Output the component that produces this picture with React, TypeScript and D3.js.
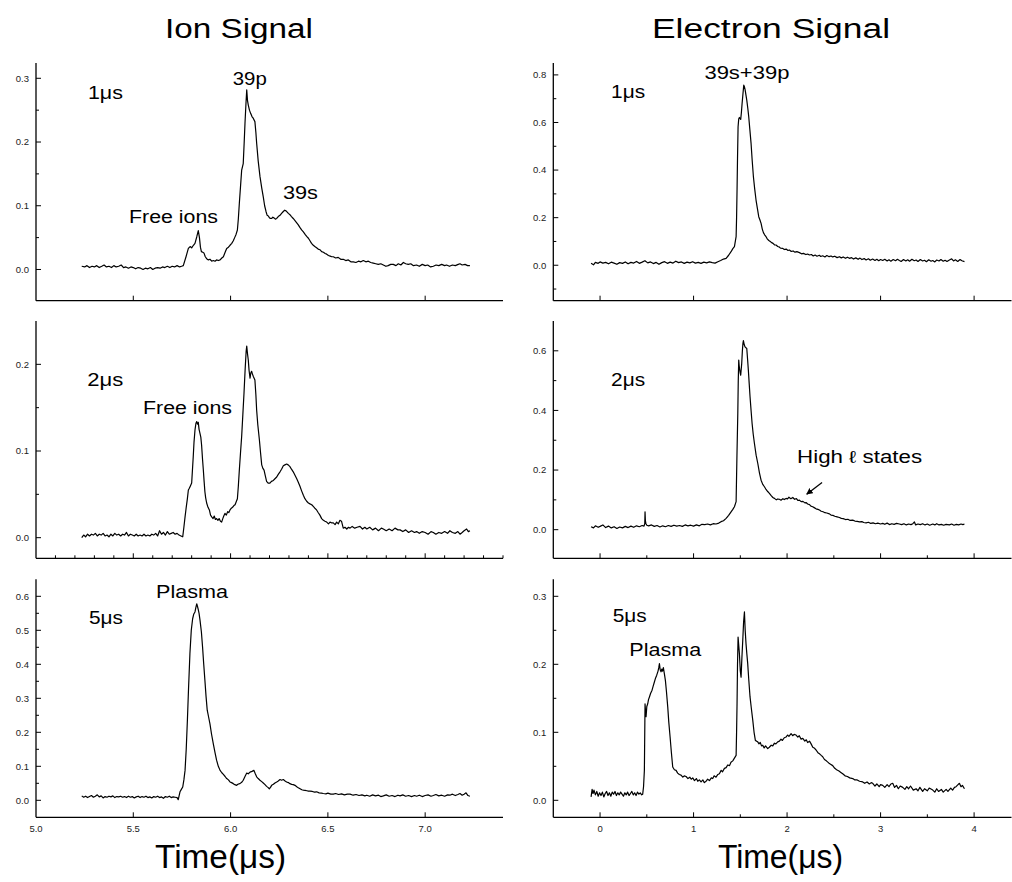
import React from 'react';
import * as d3 from 'd3';

const FONT = '"Liberation Sans", Arial, Helvetica, sans-serif';

// time (μs), signal — ion signal, delay 1 μs / 2 μs / 5 μs
const ion1: [number, number][] = [
  [5.235,.005],[5.25,.004],[5.262,.006],[5.275,.003],[5.288,.005],[5.30,.004],[5.312,.006],[5.325,.003],[5.338,.005],[5.35,.007],
  [5.362,.004],[5.375,.005],[5.388,.003],[5.40,.006],[5.412,.004],[5.425,.005],[5.438,.007],[5.45,.003],[5.462,.004],[5.475,.002],
  [5.488,.004],[5.50,.003],[5.512,.001],[5.525,.003],[5.538,.002],[5.55,.000],[5.562,.002],[5.575,.001],[5.588,.003],[5.60,.000],
  [5.612,.002],[5.625,.003],[5.638,.002],[5.65,.004],[5.662,.003],[5.675,.005],[5.688,.003],[5.70,.005],[5.712,.004],[5.725,.006],
  [5.738,.004],[5.748,.005],[5.757,.006],[5.771,.02],[5.783,.033],[5.792,.036],[5.80,.034],[5.809,.038],[5.817,.041],[5.826,.051],
  [5.834,.061],[5.84,.05],[5.845,.035],[5.85,.028],[5.857,.027],[5.863,.026],[5.87,.02],[5.877,.017],[5.886,.015],[5.894,.016],
  [5.903,.013],[5.911,.014],[5.92,.013],[5.928,.015],[5.937,.014],[5.946,.015],[5.955,.018],[5.963,.02],[5.972,.027],[5.98,.033],
  [5.989,.035],[5.997,.038],[6.006,.041],[6.014,.045],[6.021,.05],[6.028,.055],[6.035,.062],[6.04,.08],[6.045,.104],[6.051,.13],
  [6.057,.156],[6.065,.166],[6.07,.2],[6.074,.229],[6.079,.26],[6.083,.282],[6.087,.265],[6.091,.258],[6.097,.25],[6.103,.245],
  [6.11,.24],[6.117,.237],[6.125,.232],[6.13,.215],[6.134,.198],[6.142,.17],[6.151,.146],[6.16,.128],[6.168,.114],[6.175,.1],
  [6.182,.091],[6.188,.085],[6.194,.084],[6.2,.081],[6.206,.08],[6.211,.08],[6.217,.082],[6.223,.081],[6.23,.079],[6.237,.08],
  [6.245,.083],[6.254,.085],[6.262,.088],[6.271,.091],[6.278,.093],[6.285,.092],[6.291,.09],[6.297,.088],[6.305,.086],[6.313,.083],
  [6.322,.08],[6.33,.077],[6.338,.074],[6.348,.07],[6.356,.066],[6.365,.062],[6.374,.059],[6.383,.055],[6.391,.052],[6.40,.049],
  [6.408,.045],[6.416,.041],[6.425,.038],[6.433,.036],[6.442,.034],[6.45,.032],[6.459,.031],[6.468,.028],[6.477,.027],[6.486,.025],
  [6.494,.024],[6.503,.022],[6.512,.021],[6.52,.02],[6.528,.02],[6.54,.018],[6.553,.019],[6.566,.016],[6.579,.016],[6.592,.014],
  [6.605,.015],[6.618,.012],[6.631,.012],[6.644,.011],[6.657,.013],[6.67,.012],[6.682,.014],[6.695,.012],[6.708,.013],[6.72,.011],
  [6.733,.01],[6.746,.009],[6.759,.008],[6.772,.009],[6.785,.007],[6.798,.005],[6.81,.006],[6.823,.008],[6.836,.008],[6.85,.006],
  [6.862,.009],[6.875,.007],[6.888,.011],[6.9,.009],[6.913,.008],[6.926,.009],[6.94,.006],[6.956,.007],[6.97,.005],[6.985,.008],
  [7.0,.006],[7.013,.007],[7.028,.004],[7.042,.005],[7.056,.007],[7.07,.006],[7.085,.008],[7.1,.006],[7.11,.007],[7.125,.005],
  [7.14,.007],[7.155,.006],[7.17,.008],[7.179,.009],[7.19,.007],[7.205,.008],[7.218,.006],[7.23,.006],
];

const ion2: [number, number][] = [
  [5.235,.0],[5.245,.003],[5.255,.001],[5.265,.004],[5.275,.002],[5.285,.004],[5.295,.003],[5.305,.005],[5.315,.002],[5.325,.004],
  [5.335,.003],[5.345,.005],[5.355,.002],[5.365,.003],[5.375,.001],[5.385,.004],[5.395,.002],[5.405,.005],[5.415,.003],[5.425,.004],
  [5.435,.002],[5.445,.004],[5.455,.003],[5.465,.006],[5.475,.002],[5.485,.004],[5.495,.003],[5.505,.002],[5.515,.004],[5.525,.002],
  [5.535,.003],[5.545,.002],[5.555,.004],[5.565,.002],[5.575,.003],[5.585,.002],[5.595,.004],[5.605,.003],[5.615,.005],[5.625,.002],
  [5.635,.008],[5.645,.004],[5.655,.006],[5.665,.003],[5.675,.007],[5.685,.004],[5.695,.005],[5.705,.006],[5.715,.004],[5.725,.005],
  [5.735,.003],[5.745,.002],[5.754,.001],[5.76,.012],[5.766,.024],[5.772,.035],[5.778,.045],[5.783,.055],[5.788,.057],[5.794,.06],
  [5.80,.063],[5.804,.078],[5.808,.093],[5.812,.11],[5.817,.124],[5.822,.132],[5.826,.134],[5.83,.131],[5.834,.133],[5.838,.125],
  [5.843,.12],[5.847,.116],[5.851,.107],[5.856,.09],[5.86,.078],[5.864,.065],[5.868,.053],[5.872,.046],[5.877,.04],[5.884,.035],
  [5.891,.032],[5.897,.026],[5.903,.024],[5.91,.022],[5.916,.025],[5.922,.021],[5.928,.022],[5.935,.02],[5.941,.022],[5.948,.019],
  [5.954,.018],[5.96,.022],[5.965,.025],[5.971,.028],[5.978,.026],[5.985,.03],[5.991,.029],[5.997,.032],[6.004,.034],[6.01,.035],
  [6.017,.037],[6.023,.038],[6.03,.042],[6.035,.045],[6.04,.06],[6.045,.078],[6.051,.098],[6.057,.117],[6.063,.142],[6.069,.167],
  [6.075,.195],[6.08,.215],[6.083,.221],[6.087,.212],[6.091,.205],[6.095,.193],[6.10,.184],[6.104,.19],[6.108,.192],[6.112,.189],
  [6.117,.186],[6.121,.184],[6.125,.182],[6.13,.165],[6.134,.147],[6.14,.13],[6.148,.113],[6.154,.098],[6.16,.084],[6.166,.08],
  [6.172,.078],[6.178,.072],[6.185,.065],[6.193,.063],[6.202,.063],[6.21,.065],[6.22,.066],[6.228,.068],[6.237,.07],[6.245,.073],
  [6.254,.076],[6.262,.079],[6.271,.083],[6.279,.084],[6.288,.085],[6.296,.084],[6.305,.082],[6.313,.079],[6.322,.076],[6.331,.072],
  [6.34,.068],[6.348,.064],[6.357,.059],[6.365,.054],[6.374,.049],[6.382,.045],[6.391,.042],[6.40,.04],[6.408,.039],[6.417,.038],
  [6.425,.036],[6.433,.034],[6.442,.032],[6.45,.029],[6.459,.026],[6.468,.022],[6.477,.02],[6.485,.019],[6.494,.018],[6.503,.016],
  [6.511,.018],[6.52,.017],[6.528,.017],[6.537,.015],[6.545,.018],[6.554,.016],[6.562,.02],[6.57,.019],[6.579,.011],[6.588,.012],
  [6.597,.01],[6.606,.012],[6.614,.011],[6.625,.013],[6.638,.011],[6.65,.012],[6.665,.013],[6.678,.01],[6.69,.012],[6.70,.01],
  [6.715,.012],[6.73,.009],[6.745,.011],[6.76,.008],[6.775,.011],[6.785,.01],[6.80,.008],[6.815,.01],[6.83,.008],[6.845,.011],
  [6.86,.009],[6.871,.009],[6.885,.007],[6.90,.009],[6.915,.006],[6.93,.008],[6.945,.006],[6.956,.007],[6.97,.005],[6.985,.007],
  [7.0,.006],[7.015,.004],[7.03,.007],[7.042,.006],[7.055,.004],[7.07,.006],[7.085,.005],[7.10,.007],[7.115,.005],[7.127,.008],
  [7.14,.006],[7.155,.005],[7.168,.007],[7.179,.004],[7.19,.006],[7.2,.008],[7.213,.01],[7.222,.007],[7.23,.008],
];

const ion5: [number, number][] = [
  [5.235,.013],[5.245,.009],[5.255,.012],[5.265,.008],[5.275,.011],[5.285,.014],[5.295,.009],[5.305,.012],[5.315,.016],[5.325,.01],
  [5.335,.013],[5.345,.007],[5.355,.011],[5.365,.009],[5.375,.012],[5.385,.01],[5.395,.013],[5.405,.008],[5.415,.011],[5.425,.01],
  [5.435,.012],[5.445,.009],[5.455,.011],[5.465,.008],[5.475,.012],[5.485,.009],[5.495,.011],[5.505,.007],[5.515,.01],[5.525,.012],
  [5.535,.008],[5.545,.011],[5.555,.009],[5.565,.012],[5.575,.008],[5.585,.01],[5.595,.007],[5.605,.011],[5.615,.009],[5.625,.012],
  [5.635,.008],[5.645,.01],[5.655,.006],[5.665,.011],[5.675,.009],[5.685,.012],[5.695,.008],[5.705,.01],[5.715,.009],[5.725,.008],
  [5.731,.002],[5.74,.025],[5.747,.032],[5.754,.039],[5.76,.06],[5.766,.088],[5.772,.15],[5.778,.235],[5.784,.33],[5.791,.431],
  [5.798,.5],[5.805,.534],[5.811,.548],[5.817,.554],[5.822,.568],[5.826,.578],[5.83,.57],[5.834,.561],[5.838,.55],[5.843,.529],
  [5.85,.495],[5.856,.451],[5.862,.4],[5.868,.353],[5.874,.305],[5.88,.265],[5.887,.245],[5.894,.225],[5.902,.195],[5.911,.167],
  [5.92,.14],[5.928,.118],[5.937,.1],[5.946,.088],[5.955,.081],[5.963,.076],[5.972,.07],[5.98,.064],[5.989,.06],[5.997,.054],
  [6.005,.052],[6.014,.049],[6.022,.046],[6.031,.044],[6.04,.048],[6.048,.049],[6.057,.053],[6.065,.059],[6.074,.07],[6.083,.08],
  [6.091,.078],[6.10,.083],[6.11,.085],[6.12,.088],[6.127,.078],[6.134,.069],[6.142,.064],[6.151,.059],[6.16,.055],[6.168,.051],
  [6.177,.046],[6.185,.041],[6.192,.038],[6.199,.034],[6.205,.038],[6.211,.044],[6.22,.047],[6.228,.051],[6.237,.054],[6.245,.057],
  [6.254,.061],[6.262,.059],[6.271,.061],[6.28,.057],[6.288,.054],[6.297,.052],[6.305,.049],[6.314,.047],[6.322,.046],[6.331,.044],
  [6.34,.04],[6.348,.037],[6.357,.034],[6.366,.031],[6.374,.03],[6.383,.029],[6.392,.028],[6.4,.027],[6.408,.027],[6.42,.026],
  [6.432,.024],[6.442,.025],[6.455,.022],[6.467,.021],[6.477,.02],[6.49,.019],[6.5,.021],[6.515,.018],[6.528,.018],[6.54,.02],
  [6.555,.017],[6.57,.019],[6.585,.016],[6.6,.018],[6.614,.018],[6.63,.015],[6.645,.017],[6.66,.014],[6.675,.016],[6.69,.013],
  [6.70,.015],[6.715,.012],[6.73,.016],[6.745,.013],[6.76,.015],[6.772,.011],[6.785,.013],[6.8,.016],[6.815,.012],[6.83,.014],
  [6.845,.011],[6.86,.015],[6.871,.013],[6.885,.016],[6.9,.012],[6.915,.014],[6.93,.011],[6.945,.014],[6.956,.012],[6.97,.015],
  [6.985,.011],[7.0,.014],[7.015,.016],[7.03,.012],[7.042,.014],[7.055,.017],[7.07,.013],[7.085,.015],[7.1,.012],[7.115,.016],
  [7.127,.015],[7.14,.018],[7.155,.014],[7.168,.017],[7.179,.02],[7.19,.015],[7.2,.018],[7.21,.022],[7.22,.014],[7.23,.012],
];

// time (μs), signal — electron signal, delay 1 μs / 2 μs / 5 μs
const elec1: [number, number][] = [
  [-0.096,.008],[-0.07,.002],[-0.05,.012],[-0.02,.008],[0.0,.014],[0.03,.009],[0.06,.012],[0.09,.006],[0.12,.013],[0.15,.009],
  [0.18,.004],[0.21,.011],[0.24,.008],[0.27,.014],[0.3,.006],[0.33,.012],[0.36,.009],[0.39,.016],[0.42,.008],[0.45,.013],
  [0.48,.019],[0.51,.01],[0.54,.014],[0.57,.007],[0.6,.012],[0.63,.004],[0.66,.011],[0.69,.015],[0.72,.008],[0.75,.013],
  [0.78,.009],[0.81,.017],[0.84,.011],[0.87,.014],[0.9,.008],[0.93,.013],[0.96,.01],[0.99,.015],[1.02,.009],[1.05,.012],
  [1.08,.008],[1.11,.013],[1.14,.01],[1.17,.014],[1.2,.011],[1.23,.009],[1.26,.015],[1.29,.02],[1.32,.026],[1.348,.029],
  [1.375,.042],[1.401,.057],[1.42,.07],[1.437,.078],[1.455,.12],[1.46,.2],[1.465,.316],[1.47,.45],[1.476,.582],[1.483,.615],
  [1.49,.621],[1.497,.617],[1.504,.613],[1.511,.64],[1.519,.68],[1.528,.72],[1.537,.757],[1.544,.75],[1.551,.738],[1.56,.716],
  [1.569,.694],[1.58,.66],[1.59,.624],[1.602,.57],[1.615,.512],[1.627,.44],[1.64,.372],[1.654,.32],[1.668,.274],[1.682,.24],
  [1.697,.204],[1.71,.19],[1.722,.176],[1.735,.152],[1.747,.137],[1.76,.128],[1.775,.12],[1.79,.11],[1.805,.104],[1.82,.1],
  [1.835,.095],[1.85,.092],[1.865,.086],[1.882,.085],[1.9,.079],[1.915,.077],[1.93,.072],[1.954,.071],[1.97,.066],[1.99,.068],
  [2.01,.062],[2.025,.064],[2.045,.058],[2.065,.06],[2.085,.055],[2.105,.057],[2.132,.053],[2.155,.048],[2.175,.05],[2.2,.045],
  [2.22,.047],[2.239,.043],[2.26,.045],[2.28,.039],[2.3,.043],[2.32,.038],[2.345,.042],[2.36,.037],[2.381,.04],[2.405,.035],
  [2.425,.041],[2.45,.036],[2.47,.039],[2.488,.035],[2.51,.038],[2.535,.032],[2.56,.036],[2.58,.031],[2.6,.035],[2.625,.029],
  [2.645,.034],[2.667,.029],[2.69,.032],[2.71,.026],[2.735,.031],[2.76,.025],[2.78,.03],[2.8,.024],[2.825,.028],[2.845,.022],
  [2.87,.027],[2.89,.021],[2.915,.026],[2.94,.02],[2.96,.025],[2.98,.019],[3.0,.024],[3.023,.02],[3.045,.025],[3.07,.018],
  [3.09,.023],[3.11,.017],[3.135,.024],[3.16,.019],[3.18,.025],[3.201,.02],[3.22,.016],[3.245,.024],[3.27,.018],[3.29,.023],
  [3.31,.017],[3.335,.025],[3.36,.019],[3.38,.022],[3.4,.016],[3.425,.024],[3.45,.018],[3.47,.021],[3.49,.015],[3.515,.023],
  [3.54,.017],[3.558,.02],[3.58,.014],[3.6,.022],[3.625,.018],[3.645,.024],[3.67,.017],[3.69,.021],[3.71,.016],[3.736,.022],
  [3.76,.027],[3.78,.018],[3.8,.023],[3.825,.016],[3.85,.024],[3.87,.019],[3.897,.015],
];

const elec2: [number, number][] = [
  [-0.096,.01],[-0.07,.006],[-0.05,.013],[-0.02,.008],[0.0,.011],[0.03,.016],[0.06,.007],[0.09,.012],[0.12,.006],[0.15,.01],
  [0.18,.004],[0.21,.009],[0.24,.006],[0.27,.011],[0.3,.007],[0.33,.012],[0.36,.008],[0.39,.013],[0.42,.01],[0.45,.014],
  [0.47,.012],[0.478,.02],[0.481,.06],[0.485,.03],[0.49,.021],[0.5,.015],[0.52,.013],[0.55,.016],[0.58,.011],[0.61,.014],
  [0.64,.009],[0.67,.013],[0.7,.01],[0.73,.014],[0.76,.011],[0.79,.015],[0.82,.012],[0.85,.014],[0.88,.011],[0.91,.016],
  [0.94,.013],[0.97,.015],[1.0,.012],[1.03,.016],[1.062,.013],[1.09,.018],[1.12,.017],[1.15,.019],[1.18,.016],[1.21,.02],
  [1.24,.019],[1.27,.022],[1.294,.027],[1.32,.03],[1.348,.038],[1.375,.048],[1.401,.06],[1.42,.068],[1.437,.077],[1.455,.094],
  [1.464,.25],[1.473,.39],[1.478,.5],[1.483,.569],[1.488,.55],[1.494,.535],[1.499,.525],[1.504,.518],[1.51,.54],[1.515,.558],
  [1.522,.6],[1.528,.625],[1.533,.634],[1.542,.62],[1.551,.613],[1.56,.61],[1.569,.608],[1.578,.57],[1.586,.535],[1.595,.49],
  [1.604,.446],[1.615,.4],[1.626,.356],[1.638,.32],[1.651,.289],[1.669,.25],[1.687,.222],[1.705,.19],[1.722,.166],[1.74,.152],
  [1.758,.144],[1.775,.135],[1.793,.128],[1.811,.122],[1.83,.114],[1.848,.108],[1.865,.105],[1.885,.1],[1.9,.103],[1.918,.102],
  [1.935,.099],[1.955,.104],[1.97,.101],[1.989,.105],[2.005,.103],[2.02,.109],[2.04,.104],[2.061,.108],[2.08,.102],[2.1,.104],
  [2.115,.098],[2.132,.099],[2.15,.094],[2.17,.095],[2.19,.09],[2.203,.091],[2.22,.086],[2.24,.084],[2.255,.079],[2.274,.077],
  [2.29,.074],[2.31,.07],[2.33,.068],[2.346,.066],[2.365,.062],[2.385,.06],[2.405,.057],[2.425,.056],[2.453,.053],[2.47,.049],
  [2.49,.048],[2.51,.045],[2.535,.043],[2.56,.041],[2.58,.038],[2.6,.037],[2.625,.034],[2.65,.035],[2.675,.031],[2.702,.032],
  [2.725,.029],[2.75,.028],[2.775,.026],[2.8,.027],[2.82,.024],[2.845,.023],[2.87,.025],[2.895,.021],[2.92,.023],[2.945,.02],
  [2.97,.022],[3.0,.019],[3.023,.021],[3.045,.018],[3.07,.022],[3.095,.017],[3.12,.02],[3.145,.018],[3.17,.021],[3.201,.019],
  [3.225,.017],[3.25,.02],[3.275,.016],[3.3,.019],[3.325,.017],[3.345,.02],[3.362,.026],[3.375,.016],[3.4,.019],[3.425,.017],
  [3.45,.02],[3.475,.016],[3.5,.019],[3.525,.015],[3.558,.019],[3.58,.016],[3.6,.02],[3.625,.016],[3.65,.018],[3.675,.015],
  [3.7,.018],[3.736,.016],[3.76,.019],[3.785,.015],[3.81,.018],[3.835,.016],[3.86,.019],[3.88,.017],[3.897,.019],
];

const elec5: [number, number][] = [
  [-0.096,.005],[-0.085,.016],[-0.075,.01],[-0.065,.015],[-0.05,.008],[-0.035,.013],[-0.02,.006],[-0.005,.011],[0.01,.007],[0.025,.012],
  [0.04,.005],[0.055,.01],[0.07,.013],[0.085,.007],[0.1,.011],[0.115,.006],[0.13,.012],[0.145,.009],[0.16,.013],[0.175,.007],
  [0.19,.011],[0.205,.008],[0.22,.012],[0.235,.009],[0.25,.006],[0.265,.011],[0.28,.008],[0.295,.012],[0.31,.007],[0.325,.01],
  [0.34,.013],[0.355,.008],[0.37,.011],[0.385,.007],[0.4,.012],[0.415,.009],[0.43,.011],[0.445,.008],[0.456,.009],[0.465,.02],
  [0.474,.044],[0.478,.1],[0.481,.142],[0.486,.132],[0.492,.123],[0.5,.138],[0.51,.142],[0.518,.148],[0.528,.152],[0.54,.157],
  [0.556,.162],[0.568,.168],[0.581,.174],[0.594,.18],[0.606,.184],[0.62,.19],[0.628,.195],[0.635,.201],[0.643,.192],[0.652,.189],
  [0.66,.193],[0.668,.19],[0.677,.195],[0.688,.186],[0.699,.176],[0.71,.16],[0.724,.137],[0.735,.115],[0.749,.093],[0.763,.07],
  [0.777,.049],[0.795,.045],[0.813,.044],[0.83,.04],[0.848,.038],[0.866,.037],[0.885,.034],[0.9,.036],[0.92,.035],[0.94,.032],
  [0.96,.034],[0.975,.031],[0.991,.033],[1.01,.029],[1.03,.032],[1.045,.028],[1.062,.03],[1.08,.027],[1.1,.03],[1.115,.026],
  [1.134,.028],[1.15,.031],[1.17,.029],[1.19,.033],[1.205,.032],[1.22,.036],[1.24,.034],[1.26,.038],[1.276,.039],[1.295,.044],
  [1.31,.042],[1.33,.047],[1.348,.048],[1.365,.052],[1.385,.051],[1.4,.056],[1.419,.058],[1.437,.062],[1.455,.066],[1.46,.1],
  [1.465,.142],[1.47,.2],[1.476,.24],[1.483,.228],[1.49,.216],[1.5,.19],[1.508,.181],[1.517,.21],[1.526,.235],[1.535,.262],
  [1.544,.277],[1.552,.25],[1.561,.23],[1.57,.215],[1.579,.201],[1.59,.178],[1.604,.152],[1.618,.135],[1.633,.118],[1.647,.1],
  [1.661,.088],[1.674,.087],[1.686,.086],[1.7,.083],[1.713,.085],[1.727,.08],[1.74,.081],[1.755,.077],[1.77,.08],[1.793,.076],
  [1.81,.078],[1.83,.081],[1.847,.08],[1.865,.084],[1.88,.083],[1.9,.086],[1.918,.087],[1.935,.09],[1.95,.088],[1.97,.092],
  [1.989,.093],[2.005,.096],[2.02,.094],[2.043,.098],[2.06,.095],[2.075,.097],[2.096,.096],[2.115,.093],[2.13,.095],[2.15,.09],
  [2.168,.091],[2.19,.087],[2.205,.089],[2.22,.085],[2.24,.087],[2.257,.083],[2.275,.078],[2.29,.077],[2.31,.074],[2.33,.07],
  [2.35,.068],[2.365,.066],[2.381,.064],[2.4,.06],[2.42,.058],[2.445,.055],[2.465,.053],[2.488,.051],[2.51,.047],[2.53,.045],
  [2.555,.043],[2.575,.041],[2.595,.039],[2.62,.036],[2.645,.035],[2.67,.033],[2.702,.032],[2.725,.03],[2.75,.03],[2.775,.028],
  [2.809,.027],[2.83,.025],[2.855,.027],[2.88,.024],[2.9,.026],[2.916,.025],[2.94,.021],[2.96,.024],[2.985,.02],[3.0,.023],
  [3.023,.022],[3.045,.019],[3.07,.023],[3.09,.02],[3.11,.024],[3.13,.025],[3.15,.019],[3.17,.022],[3.19,.017],[3.21,.021],
  [3.237,.019],[3.26,.016],[3.28,.02],[3.3,.017],[3.32,.021],[3.35,.015],[3.38,.017],[3.4,.014],[3.42,.019],[3.45,.013],
  [3.47,.017],[3.5,.014],[3.52,.018],[3.558,.015],[3.58,.012],[3.6,.017],[3.62,.013],[3.65,.016],[3.67,.012],[3.701,.016],
  [3.72,.013],[3.75,.018],[3.77,.015],[3.79,.019],[3.807,.02],[3.82,.022],[3.843,.025],[3.86,.02],[3.875,.022],[3.897,.017],
];

const columnTitles = ['Ion Signal', 'Electron Signal'];
const ionXTicks = [5.0, 5.5, 6.0, 6.5, 7.0];
const elecXTicks = [0, 1, 2, 3, 4];

const ROWS = [[63, 300.7], [321, 558.3], [579.3, 817.3]];

const COLS = [
  { x0: 36, x1: 503, domain: [5.0, 7.4], major: ionXTicks, minorStep: 0.1, fmt: d3.format('.1f'), titleX: 165, titleW: 148, timeX: 155, timeW: 131 },
  { x0: 553.3, x1: 1011.5, domain: [-0.5, 4.4], major: elecXTicks, minorStep: 0.5, fmt: d3.format('d'), titleX: 652, titleW: 238, timeX: 718, timeW: 125 },
];

type Note = { text: string; t: number; v: number; w: number };

const PANELS = [
  { col: 0, row: 0, data: ion1, yDomain: [-0.049, 0.324], yMajor: [0, 0.1, 0.2, 0.3], yMinor: 0.05, xMinor: false,
    notes: [
      { text: '1μs', t: 5.267, v: 0.267, w: 35 },
      { text: '39p', t: 6.011, v: 0.289, w: 34 },
      { text: '39s', t: 6.269, v: 0.110, w: 35 },
      { text: 'Free ions', t: 5.478, v: 0.0727, w: 89 },
    ] as Note[] },
  { col: 0, row: 1, data: ion2, yDomain: [-0.0238, 0.25], yMajor: [0, 0.1, 0.2], yMinor: 0.05, xMinor: true,
    notes: [
      { text: '2μs', t: 5.264, v: 0.175, w: 36 },
      { text: 'Free ions', t: 5.55, v: 0.1427, w: 89 },
    ] as Note[] },
  { col: 0, row: 2, data: ion5, yDomain: [-0.05, 0.65], yMajor: [0, 0.1, 0.2, 0.3, 0.4, 0.5, 0.6], yMinor: 0.05, xMinor: false,
    notes: [
      { text: '5μs', t: 5.272, v: 0.52, w: 34 },
      { text: 'Plasma', t: 5.617, v: 0.594, w: 72 },
    ] as Note[] },
  { col: 1, row: 0, data: elec1, yDomain: [-0.149, 0.85], yMajor: [0, 0.2, 0.4, 0.6, 0.8], yMinor: 0.1, xMinor: false,
    notes: [
      { text: '1μs', t: 0.118, v: 0.702, w: 34 },
      { text: '39s+39p', t: 1.116, v: 0.782, w: 85 },
    ] as Note[] },
  { col: 1, row: 1, data: elec2, yDomain: [-0.096, 0.7], yMajor: [0, 0.2, 0.4, 0.6], yMinor: 0.1, xMinor: true,
    notes: [
      { text: '2μs', t: 0.118, v: 0.482, w: 34 },
      { text: 'High ℓ states', t: 2.107, v: 0.224, w: 125 },
    ] as Note[],
    arrow: { from: [2.374, 0.158], to: [2.21, 0.119] } },
  { col: 1, row: 2, data: elec5, yDomain: [-0.025, 0.325], yMajor: [0, 0.1, 0.2, 0.3], yMinor: 0.05, xMinor: true,
    notes: [
      { text: '5μs', t: 0.135, v: 0.262, w: 34 },
      { text: 'Plasma', t: 0.313, v: 0.212, w: 72 },
    ] as Note[] },
];

const minorTicks = (domain: number[], step: number, major: number[]) => {
  const lo = Math.ceil(domain[0] / step - 1e-6);
  const hi = Math.floor(domain[1] / step + 1e-6);
  return d3.range(lo, hi + 1)
    .map((k) => +(k * step).toFixed(4))
    .filter((v) => v > domain[0] + 1e-6 && !major.some((m) => Math.abs(m - v) < 1e-6));
};

const Panel = ({ p }: { p: (typeof PANELS)[number] }) => {
  const c = COLS[p.col];
  const [top, bottom] = ROWS[p.row];
  const x = d3.scaleLinear().domain(c.domain).range([c.x0, c.x1]);
  const y = d3.scaleLinear().domain(p.yDomain).range([bottom, top]);
  const line = d3.line<[number, number]>().x((d) => x(d[0])).y((d) => y(d[1]));
  const yFmt = d3.format('.1f');
  const xMajor = c.major.filter((t) => t > c.domain[0] + 1e-6);
  const xMinor = p.xMinor ? minorTicks(c.domain, c.minorStep, c.major) : [];
  const yMinor = minorTicks(p.yDomain, p.yMinor, p.yMajor).filter((v) => y(v) > top + 0.5);
  const isBottom = p.row === 2;

  return (
    <g>
      <path d={line(p.data) ?? ''} fill="none" stroke="#000" strokeWidth={1.2} strokeLinejoin="round" />
      {/* axes */}
      <line x1={c.x0} x2={c.x0} y1={top} y2={bottom} stroke="#000" strokeWidth={1.3} />
      <line x1={c.x0} x2={c.x1} y1={bottom} y2={bottom} stroke="#000" strokeWidth={1.3} />
      {p.yMajor.map((v) => (
        <g key={`ym${v}`}>
          <line x1={c.x0} x2={c.x0 + 5} y1={y(v)} y2={y(v)} stroke="#000" strokeWidth={1} />
          <text x={c.x0 - 7} y={y(v)} dy="0.35em" textAnchor="end" fontSize={9.5} fill="#222">{yFmt(v)}</text>
        </g>
      ))}
      {yMinor.map((v) => (
        <line key={`yn${v}`} x1={c.x0} x2={c.x0 + 3} y1={y(v)} y2={y(v)} stroke="#000" strokeWidth={1} />
      ))}
      {xMajor.map((t) => (
        <line key={`xm${t}`} x1={x(t)} x2={x(t)} y1={bottom} y2={bottom - 5} stroke="#000" strokeWidth={1} />
      ))}
      {xMinor.map((t) => (
        <line key={`xn${t}`} x1={x(t)} x2={x(t)} y1={bottom} y2={bottom - 3} stroke="#000" strokeWidth={1} />
      ))}
      {isBottom && c.major.map((t) => (
        <text key={`xl${t}`} x={x(t)} y={832} textAnchor="middle" fontSize={9.5} fill="#222">{c.fmt(t)}</text>
      ))}
      {p.notes.map((n) => (
        <text key={n.text} x={x(n.t)} y={y(n.v)} fontSize={17.5} textLength={n.w} lengthAdjust="spacingAndGlyphs">{n.text}</text>
      ))}
      {p.arrow && (
        <line x1={x(p.arrow.from[0])} y1={y(p.arrow.from[1])} x2={x(p.arrow.to[0])} y2={y(p.arrow.to[1])}
          stroke="#000" strokeWidth={1.3} markerEnd="url(#arrowhead)" />
      )}
    </g>
  );
};

export default function App() {
  return (
    <svg width={1012} height={882} style={{ position: 'absolute', left: 0, top: 0, background: '#fff' }} fontFamily={FONT}>
      <defs>
        <marker id="arrowhead" viewBox="0 0 10 10" refX="9" refY="5" markerWidth="5" markerHeight="5" orient="auto">
          <path d="M0,0 L10,5 L0,10 z" fill="#000" />
        </marker>
      </defs>
      {COLS.map((c, i) => (
        <text key={columnTitles[i]} x={c.titleX} y={37.7} fontSize={27} textLength={c.titleW} lengthAdjust="spacingAndGlyphs">
          {columnTitles[i]}
        </text>
      ))}
      {PANELS.map((p, i) => <Panel key={i} p={p} />)}
      {COLS.map((c, i) => (
        <text key={`time${i}`} x={c.timeX} y={868} fontSize={33} textLength={c.timeW} lengthAdjust="spacingAndGlyphs">Time(μs)</text>
      ))}
    </svg>
  );
}
